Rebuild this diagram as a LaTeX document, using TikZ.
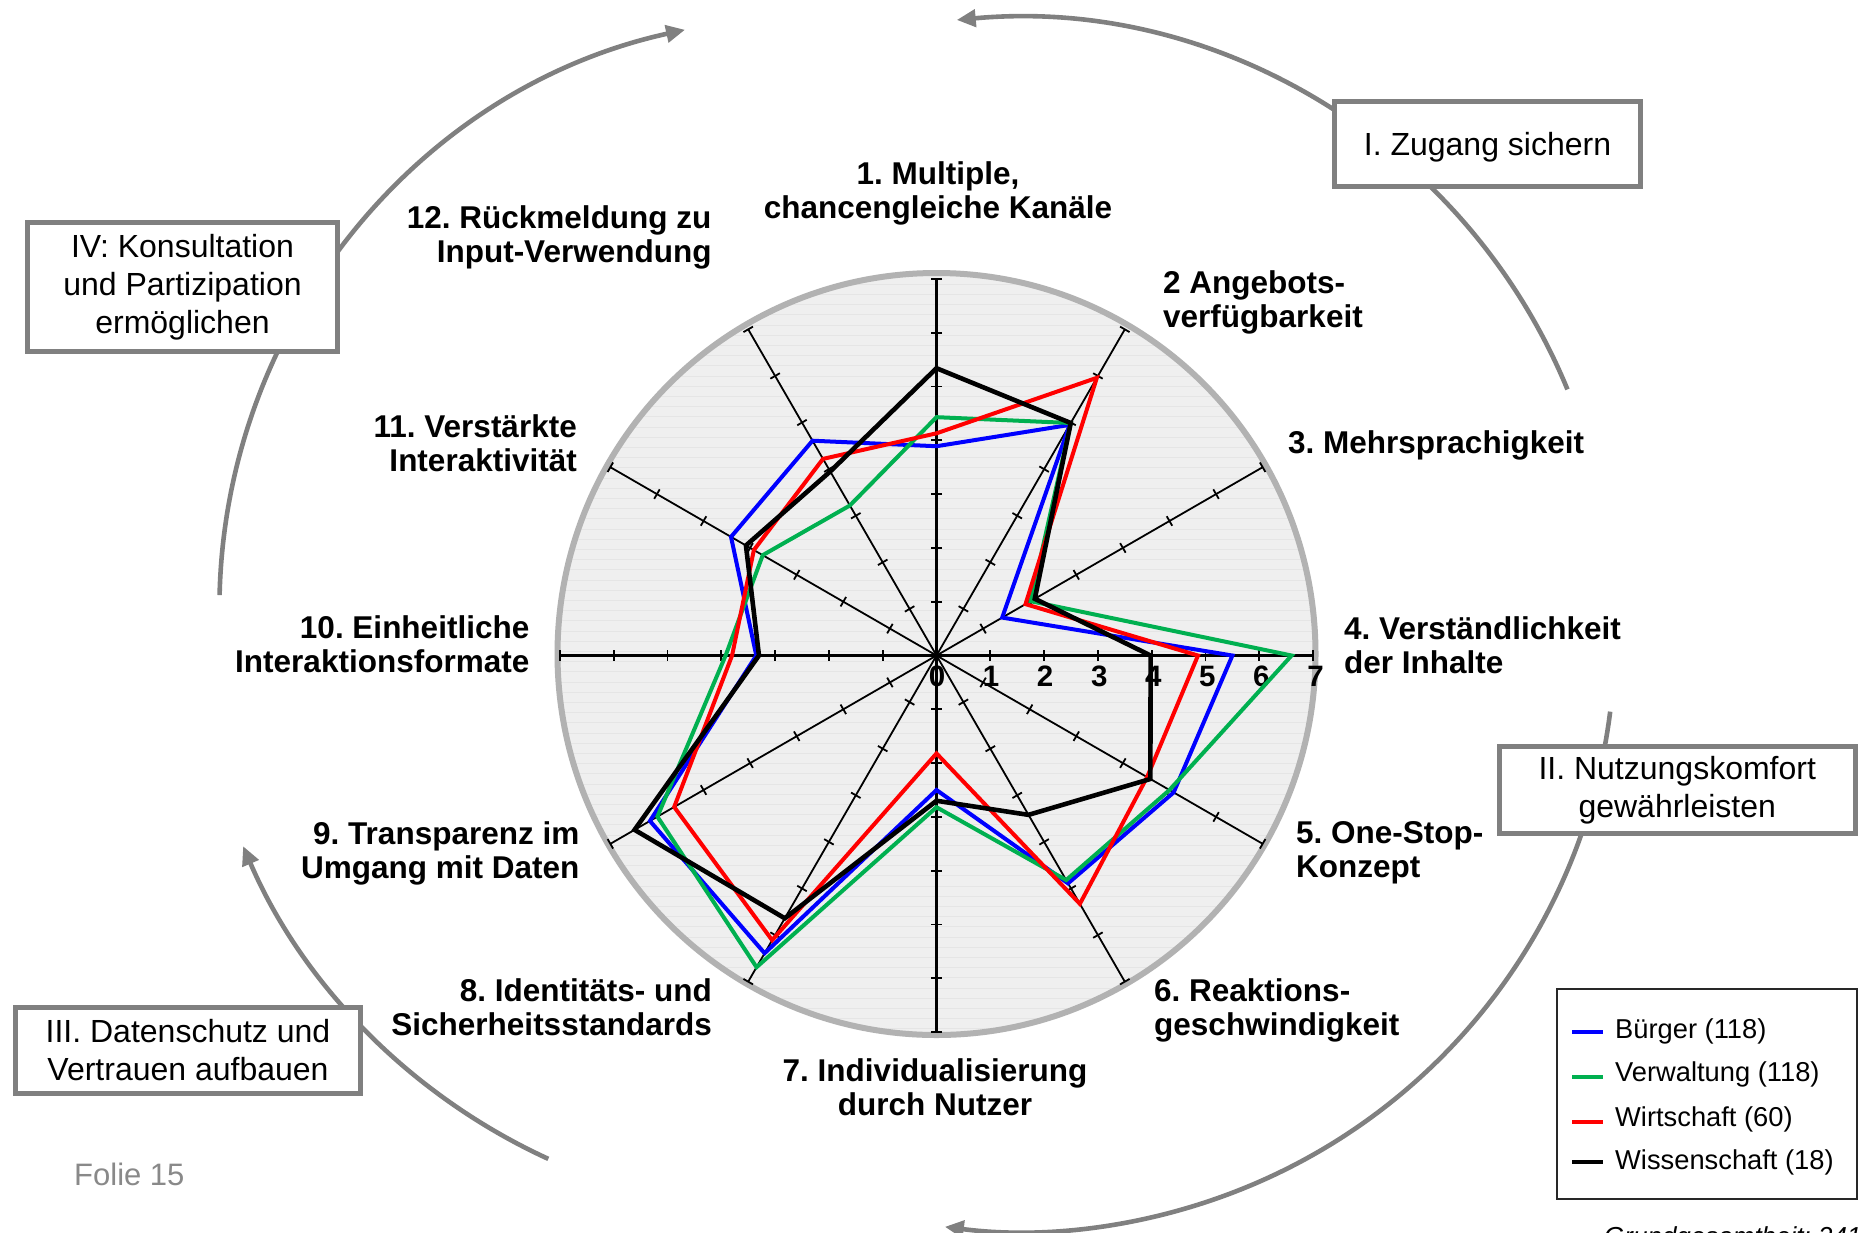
\documentclass[tikz,border=0pt]{standalone}
\usepackage{fontspec}
\setmainfont{Liberation Sans}
\usetikzlibrary{calc,arrows.meta}
\frenchspacing

\definecolor{sblue}{RGB}{0,0,255}
\definecolor{sgreen}{RGB}{0,176,80}
\definecolor{sred}{RGB}{255,0,0}
\definecolor{framegray}{RGB}{128,128,128}
\definecolor{ringgray}{RGB}{178,178,178}
\definecolor{plotbg}{RGB}{239,239,239}
\definecolor{stripegray}{RGB}{229,229,229}
\definecolor{foliegray}{RGB}{137,137,137}
\definecolor{legendframe}{RGB}{40,40,40}

\newcommand\axlblfont{\fontsize{31.5}{34}\selectfont\bfseries}
\newcommand\stagefont{\fontsize{32}{38}\selectfont}

\begin{document}
\begin{tikzpicture}[x=1pt,y=-1pt,
  tickmark/.style={line width=1.8pt},
  series/.style={line width=4pt, line join=miter, miter limit=20},
  flow/.style={framegray, line width=4.6pt, -{Triangle[length=19pt,width=17pt]}},
  stagebox/.style={draw=framegray, line width=5pt, fill=white, inner sep=0pt,
                   align=center, font=\stagefont},
  lbl/.style={inner sep=0pt, font=\axlblfont},
  scalenum/.style={inner sep=0pt, anchor=base, font=\fontsize{29.5}{30}\selectfont\bfseries},
  legendtext/.style={inner sep=0pt, anchor=base west, font=\fontsize{27.3}{30}\selectfont},
]
\useasboundingbox (0,0) rectangle (1860,1232);
\fill[white] (0,0) rectangle (1860,1232);

\def\su{53.8}
\coordinate (O) at (936.5,655.5);
\coordinate (C) at (936.5,654);

% ---------- flow arcs around the chart ----------
\coordinate (cA) at (812.4,608.9);
\coordinate (cB) at (1011.8,618.4);
\coordinate (cC) at (801,607);
\coordinate (cD) at (1020.8,637.7);
\coordinate (arcAstart) at ($(cA)+(181.34:593)$);
\coordinate (arcBstart) at ($(cB)+(-22.4:601)$);
\coordinate (arcCstart) at ($(cC)+(114.6:607)$);
\coordinate (arcDstart) at ($(cD)+(7.15:594)$);
\draw[flow] (arcAstart) arc[start angle=181.34, end angle=257.6, radius=593];
\draw[flow] (arcBstart) arc[start angle=-22.4, end angle=-95.26, radius=601];
\draw[flow] (arcCstart) arc[start angle=114.6, end angle=156.8, radius=607];
\draw[flow] (arcDstart) arc[start angle=7.15, end angle=97.35, radius=594];

% ---------- plot area ----------
\fill[plotbg] (C) ellipse [x radius=379, y radius=381];
\begin{scope}
  \clip (C) ellipse [x radius=379, y radius=381];
  \foreach \yy in {0,...,76}
    \draw[stripegray, line width=0.8pt] (550,{274+10.2*\yy}) -- (1325,{274+10.2*\yy});
\end{scope}
\draw[ringgray, line width=6pt] (C) ellipse [x radius=379, y radius=381];

% ---------- axes with unit ticks ----------
\foreach \k in {1,...,12}{
  \pgfmathsetmacro\ang{-120+30*\k}
  \pgfmathsetmacro\axw{mod(\k-1,3)==0 ? 2.6 : 1.8}
  \draw[line width=\axw pt] (O) -- ($(O)+(\ang:{7*\su})$);
  \foreach \rr in {1,...,7}
    \draw[tickmark] ($(O)+(\ang:{\rr*\su})+({\ang+90}:5.5)$) -- ($(O)+(\ang:{\rr*\su})+({\ang-90}:5.5)$);
}

% ---------- scale numbers ----------
\foreach \d in {0,...,7}
  \node[scalenum] (s\d) at ({937+54.07*\d},686) {\d};

% ---------- data series ----------
\newcommand\radarseries[3]{%
  \foreach \v [count=\k] in {#3}
    \coordinate (#1-\k) at ($(O)+({-120+30*\k}:{\v*\su})$);
  \draw[series,#2] (#1-1) \foreach \k in {2,...,12} {-- (#1-\k)} -- cycle;
}
\radarseries{pb}{sblue}{3.89,4.95,1.41,5.5,5.09,4.89,2.5,6.39,6.15,3.35,4.41,4.61}
\radarseries{pg}{sgreen}{4.43,4.99,2.02,6.6,5.0,4.82,2.82,6.69,5.99,3.92,3.73,3.22}
\radarseries{pr}{sred}{4.13,5.96,1.91,4.86,4.52,5.33,1.82,6.11,5.63,3.8,3.92,4.22}
\radarseries{pk}{black,line width=4.6pt}{5.34,4.99,2.11,3.98,4.59,3.42,2.7,5.64,6.48,3.3,4.09,3.95}

% ---------- axis labels ----------
\node[lbl, align=center] (l1) at (938,193) {1. Multiple,\\chancengleiche Kanäle};
\node[lbl, align=left, anchor=west] (l2) at (1163,302) {2 Angebots-\\verfügbarkeit};
\node[lbl, anchor=base west] (l3) at (1288,453) {3. Mehrsprachigkeit};
\node[lbl, align=left, anchor=west] (l4) at (1344,645) {4. Verständlichkeit\\der Inhalte};
\node[lbl, align=left, anchor=west] (l5) at (1296,853) {5. One-Stop-\\Konzept};
\node[lbl, align=left, anchor=west] (l6) at (1154,1010) {6. Reaktions-\\geschwindigkeit};
\node[lbl, align=center] (l7) at (935,1087) {7. Individualisierung\\durch Nutzer};
\node[lbl, align=right, anchor=east] (l8) at (712,1007) {8. Identitäts- und\\Sicherheitsstandards};
\node[lbl, align=right, anchor=east] (l9) at (579.5,853) {9. Transparenz im\\Umgang mit Daten};
\node[lbl, align=right, anchor=east] (l10) at (529.5,644) {10. Einheitliche\\Interaktionsformate};
\node[lbl, align=right, anchor=east] (l11) at (577,443) {11. Verstärkte\\Interaktivität};
\node[lbl, align=right, anchor=east] (l12) at (711.7,237) {12. Rückmeldung zu\\Input-Verwendung};

% ---------- stage boxes ----------
\node[stagebox, minimum width=306, minimum height=85, text depth=0pt] (stI) at (1487.5,144) {I. Zugang sichern};
\node[stagebox, minimum width=356.5, minimum height=86.5] (stII) at (1677.25,789.75) {II. Nutzungskomfort\\gewährleisten};
\node[stagebox, minimum width=345, minimum height=86.5] (stIII) at (188,1050.25) {III. Datenschutz und\\Vertrauen aufbauen};
\node[stagebox, minimum width=310, minimum height=129] (stIV) at (182.5,287) {IV: Konsultation\\und Partizipation\\ermöglichen};

% ---------- legend ----------
\node[draw=legendframe, line width=2.4pt, fill=white, minimum width=300, minimum height=210, inner sep=0pt] (legend) at (1707,1094) {};
\draw[sblue, line width=4pt] (1572,1031.7) -- (1603,1031.7);
\draw[sgreen, line width=4pt] (1572,1076.7) -- (1603,1076.7);
\draw[sred, line width=4pt] (1572,1121.7) -- (1603,1121.7);
\draw[black, line width=4pt] (1572,1161.7) -- (1603,1161.7);
\node[legendtext] (lgb) at (1615,1038.3) {Bürger (118)};
\node[legendtext] (lgg) at (1615,1081.7) {Verwaltung (118)};
\node[legendtext] (lgr) at (1615,1126.7) {Wirtschaft (60)};
\node[legendtext] (lgk) at (1615,1169.3) {Wissenschaft (18)};

% ---------- footer texts ----------
\node[inner sep=0pt, anchor=base west, text=foliegray, font=\fontsize{31}{34}\selectfont] (folie) at (74,1185) {Folie 15};
\node[inner sep=0pt, anchor=base west, font=\fontsize{26}{28}\selectfont\itshape] (basis) at (1604,1245) {Grundgesamtheit: 241};
\end{tikzpicture}
\end{document}
